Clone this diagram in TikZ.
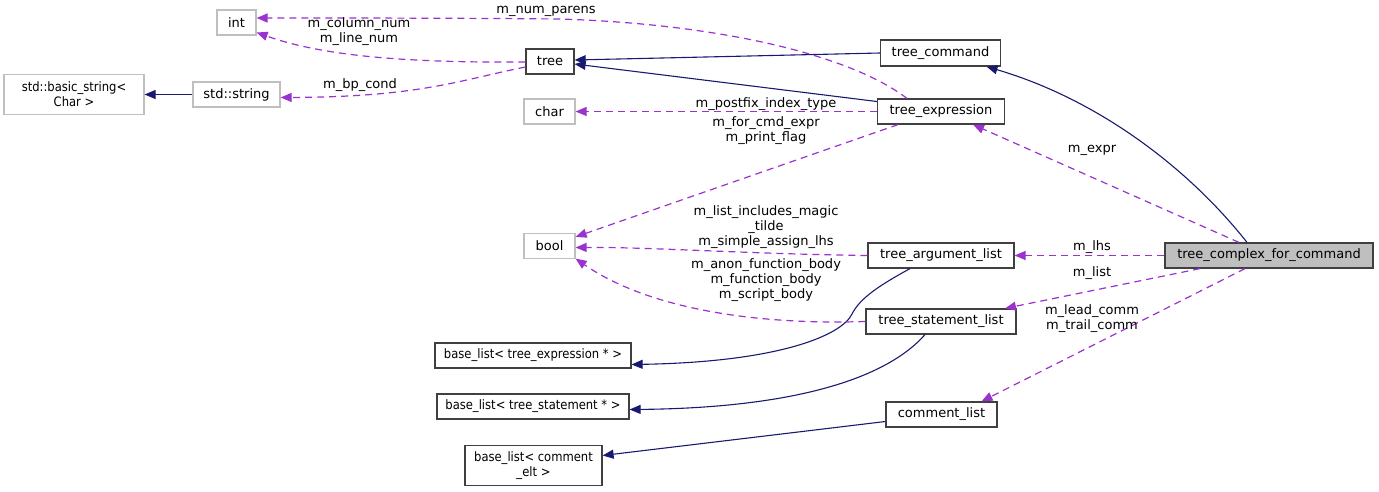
\documentclass[tikz,border=0pt]{standalone}
\usepackage{fontspec}
\setmainfont{DejaVu Sans}
\usetikzlibrary{arrows.meta}
\definecolor{navy}{HTML}{191970}
\definecolor{orchid}{HTML}{9A32CD}
\definecolor{edgegray}{HTML}{BFBFBF}
\definecolor{boxdark}{HTML}{404040}
\newcommand{\narrowtxt}[1]{\scalebox{0.89}[1]{#1}}
\begin{document}
\begin{tikzpicture}[x=1pt,y=-1pt, font=\fontsize{13}{15}\selectfont,
 cls/.style={draw=boxdark, line width=1.2pt, fill=white, inner sep=0pt, minimum height=25pt, align=center},
 ext/.style={draw=edgegray, line width=1.2pt, fill=white, inner sep=0pt, minimum height=25pt, align=center},
 inh/.style={navy, line width=1.1pt, -{Triangle[length=11pt,width=9pt]}},
 use/.style={orchid, line width=1.2pt, dash pattern=on 7pt off 5pt, -{Triangle[length=11pt,width=9pt]}},
 lbl/.style={inner sep=0pt, align=center}]
\useasboundingbox (0,0) rectangle (1379,491);
% nodes
\node[ext, minimum width=39pt] (int) at (236.5,22.5) {int};
\node[ext, minimum width=140pt, minimum height=40pt] (bstr) at (74,94.5) {\narrowtxt{std::basic\_string\textless}\\\narrowtxt{Char \textgreater}};
\node[ext, minimum width=87pt] (sstr) at (236.5,94.5) {std::string};
\node[cls, minimum width=48pt] (tree) at (550,61.5) {tree};
\node[ext, minimum width=51pt] (char) at (549.5,111.5) {char};
\node[ext, minimum width=51pt] (bool) at (549.5,246) {bool};
\node[cls, minimum width=120pt, minimum height=26pt] (tcmd) at (940.5,53) {tree\_command};
\node[cls, minimum width=127pt] (texpr) at (941,111.5) {tree\_expression};
\node[cls, minimum width=146pt] (targ) at (941,255.5) {tree\_argument\_list};
\node[cls, minimum width=150pt] (tstmt) at (941,321.5) {tree\_statement\_list};
\node[cls, minimum width=111pt] (clist) at (941.5,414.5) {comment\_list};
\node[cls, fill=edgegray, minimum width=208pt] (tcfc) at (1269,255.5) {tree\_complex\_for\_command};
\node[cls, minimum width=196pt] (blexpr) at (533,355.5) {\narrowtxt{base\_list\textless{} tree\_expression * \textgreater}};
\node[cls, minimum width=192pt] (blstmt) at (533,406.5) {\narrowtxt{base\_list\textless{} tree\_statement * \textgreater}};
\node[cls, minimum width=137pt, minimum height=40pt] (blcomm) at (533.5,465.5) {\narrowtxt{base\_list\textless{} comment}\\\narrowtxt{\_elt \textgreater}};
% inheritance
\draw[inh] (tcmd.west) -- ([yshift=1.5pt]tree.east);
\draw[inh] ([yshift=10pt]texpr.west) -- ([yshift=-2.5pt]tree.east);
\draw[inh] (sstr.west) -- (bstr.east);
\draw[inh] ([xshift=-22pt]tcfc.north) .. controls (1190,170) and (1100,100) .. ([xshift=46pt]tcmd.south);
\draw[inh] ([xshift=-31pt]targ.south) .. controls (880,285) and (860,298) .. (852,314) .. controls (842,335) and (780,362) .. ([yshift=-9pt]blexpr.east);
\draw[inh] ([xshift=-16pt]tstmt.south) .. controls (885,380) and (790,408) .. ([yshift=-3pt]blstmt.east);
\draw[inh] ([yshift=-7pt]clist.west) -- ([yshift=10pt]blcomm.east);
% usage
\draw[use] ([xshift=-30pt]tcfc.north) -- ([xshift=32pt]texpr.south);
\draw[use] (tcfc.west) -- (targ.east);
\draw[use] ([xshift=-69pt]tcfc.south) -- ([xshift=64pt]tstmt.north);
\draw[use] ([xshift=-24pt]tcfc.south) -- ([xshift=40pt]clist.north);
\draw[use] ([xshift=-34pt]texpr.north) .. controls (850,55) and (720,24) .. (560,19) .. controls (450,18) and (350,18) .. ([yshift=4.5pt]int.east);
\draw[use] ([yshift=-0.5pt]tree.west) .. controls (400,63) and (320,55) .. ([yshift=-10pt]int.east);
\draw[use] ([yshift=-5.5pt]tree.west) .. controls (460,80) and (420,97) .. ([yshift=-3pt]sstr.east);
\draw[use] (texpr.west) -- (char.east);
\draw[use] ([xshift=-43pt]texpr.south) -- ([yshift=-4pt]bool.north east);
\draw[use] (targ.west) .. controls (750,254) and (650,247) .. ([yshift=-1.5pt]bool.east);
\draw[use] (tstmt.west) .. controls (760,325) and (650,310) .. ([yshift=0.5pt]bool.south east);
% labels
\node[lbl] (l1) at (546,11) {m\_num\_parens};
\node[lbl] (l2) at (359,31.5) {m\_column\_num\\m\_line\_num};
\node[lbl] (l3) at (360,85) {m\_bp\_cond};
\node[lbl] (l4) at (766,104) {m\_postfix\_index\_type};
\node[lbl] (l5) at (766,130.5) {m\_for\_cmd\_expr\\m\_print\_flag};
\node[lbl] (l6) at (766,227) {m\_list\_includes\_magic\\\_tilde\\m\_simple\_assign\_lhs};
\node[lbl] (l7) at (766,280) {m\_anon\_function\_body\\m\_function\_body\\m\_script\_body};
\node[lbl] (l8) at (1092,150) {m\_expr};
\node[lbl] (l9) at (1092,247) {m\_lhs};
\node[lbl] (l10) at (1092,273) {m\_list};
\node[lbl] (l11) at (1092,318.5) {m\_lead\_comm\\m\_trail\_comm};
\end{tikzpicture}
\end{document}
